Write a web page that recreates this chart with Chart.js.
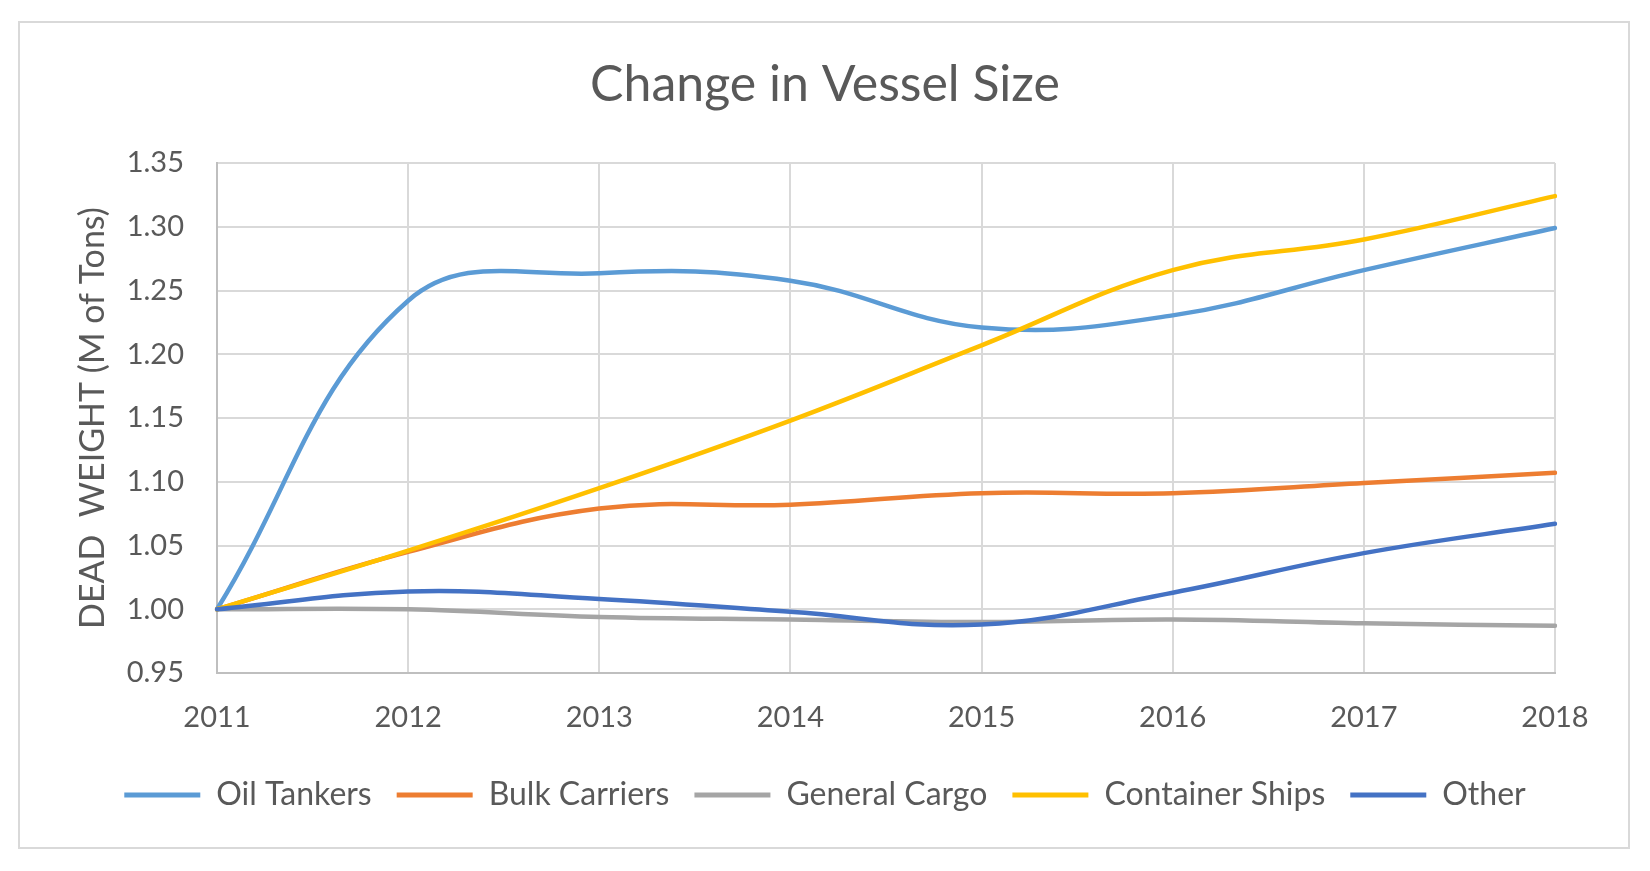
<!DOCTYPE html>
<html><head><meta charset="utf-8">
<script src="https://cdn.jsdelivr.net/npm/chart.js@4.4.1/dist/chart.umd.min.js"></script>
<style>html,body{margin:0;padding:0;background:#fff;} canvas{display:block;}</style>
</head><body>
<canvas id="c" width="1650" height="871"></canvas>
<script>
const years = ['2011', '2012', '2013', '2014', '2015', '2016', '2017', '2018'];
const oilTankers     = [1.000, 1.242, 1.2635, 1.2577, 1.221, 1.2305, 1.266, 1.299];
const bulkCarriers   = [1.000, 1.045, 1.079, 1.082, 1.091, 1.091, 1.099, 1.107];
const generalCargo   = [1.000, 1.000, 0.994, 0.992, 0.990, 0.992, 0.989, 0.987];
const containerShips = [1.000, 1.046, 1.095, 1.148, 1.207, 1.266, 1.290, 1.324];
const otherVessels   = [1.000, 1.014, 1.008, 0.998, 0.988, 1.013, 1.044, 1.067];
const seriesNames = ['Oil Tankers', 'Bulk Carriers', 'General Cargo', 'Container Ships', 'Other'];
const seriesColors = ['#5B9BD5', '#ED7D31', '#A5A5A5', '#FFC000', '#4472C4'];
const seriesValues = [oilTankers, bulkCarriers, generalCargo, containerShips, otherVessels];
const yMin = 0.95, yMax = 1.35, yStep = 0.05;

const FONT = 'Lato, "Open Sans", sans-serif';
const TEXT = '#595959';

const borderPlugin = {
  id: 'outerBorder',
  beforeDraw(chart) {
    const ctx = chart.ctx;
    ctx.save();
    ctx.fillStyle = '#ffffff';
    ctx.fillRect(0, 0, chart.width, chart.height);
    ctx.strokeStyle = '#D9D9D9';
    ctx.lineWidth = 2;
    ctx.strokeRect(19, 22, 1610, 826);
    ctx.restore();
  }
};

const datasets = seriesNames.map((name, i) => ({
  label: name,
  data: seriesValues[i],
  borderColor: seriesColors[i],
  backgroundColor: seriesColors[i],
  borderWidth: 4.5,
  borderCapStyle: 'round',
  borderJoinStyle: 'round',
  pointRadius: 0,
  pointHoverRadius: 0,
  tension: 0.4,
  fill: false,
  order: seriesNames.length - 1 - i,
  yAxisID: 'y'
}));

new Chart(document.getElementById('c'), {
  type: 'line',
  data: { labels: years, datasets },
  plugins: [borderPlugin],
  options: {
    responsive: false,
    animation: false,
    devicePixelRatio: 1,
    layout: { padding: { left: 20, right: 20, top: 0, bottom: 50 } },
    plugins: {
      tooltip: { enabled: false },
      title: {
        display: true,
        text: 'Change in Vessel Size',
        color: TEXT,
        font: { family: FONT, size: 50, weight: 'normal' },
        padding: { top: 55, bottom: 48 }
      },
      legend: {
        position: 'bottom',
        labels: {
          color: TEXT,
          font: { family: FONT, size: 32 },
          boxWidth: 76,
          boxHeight: 5,
          padding: 25,
          sort: (a, b) => a.datasetIndex - b.datasetIndex,
          generateLabels(chart) {
            const items = Chart.defaults.plugins.legend.labels.generateLabels(chart);
            return items.map(it => Object.assign(it, { lineWidth: 0, fillStyle: seriesColors[it.datasetIndex], strokeStyle: seriesColors[it.datasetIndex] }));
          }
        }
      }
    },
    scales: {
      x: {
        grid: { color: '#D9D9D9', lineWidth: 2, drawTicks: false },
        border: { color: '#BFBFBF', width: 2 },
        ticks: { color: TEXT, font: { family: FONT, size: 29 }, padding: 27, maxRotation: 0, autoSkip: false },
        afterFit(s) { s.height = 81; }
      },
      y: {
        position: 'left',
        min: yMin, max: yMax,
        grid: { color: '#D9D9D9', lineWidth: 2, drawTicks: false },
        border: { color: '#BFBFBF', width: 2 },
        ticks: { stepSize: yStep, color: TEXT, font: { family: FONT, size: 29 }, padding: 33,
                 callback: v => Number(v).toFixed(2) },
        title: { display: true, text: 'DEAD  WEIGHT (M of Tons)', color: TEXT,
                 font: { family: FONT, size: 34 }, padding: { top: 53, bottom: 0 } },
        afterFit(s) { s.width = 197; }
      },
      yRight: {
        position: 'right',
        display: true,
        grid: { display: false, drawOnChartArea: false },
        border: { display: false },
        ticks: { display: false },
        afterFit(s) { s.width = 75; }
      }
    }
  }
});
</script>
</body></html>
